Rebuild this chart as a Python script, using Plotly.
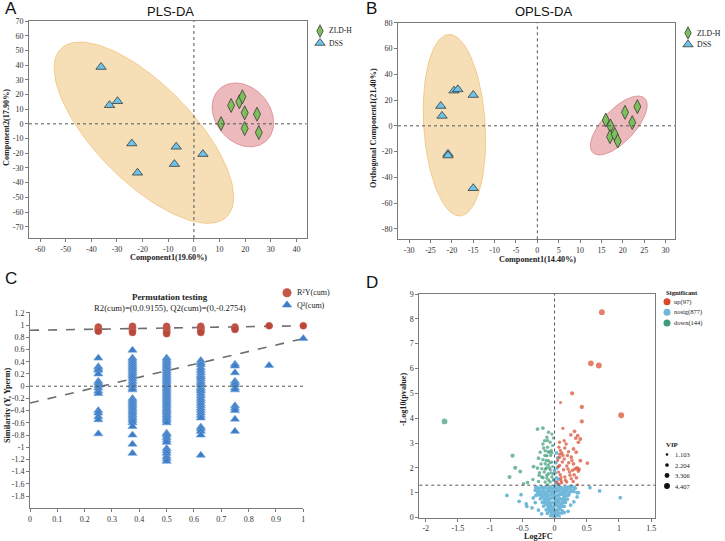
import numpy as np
import plotly.graph_objects as go

W, H = 725, 541

# ---------------- Panel A : PLS-DA scores ----------------
A_ZLD_X = [10.6, 14.5, 17.7, 18.9, 19.8, 19.8, 24.6, 25.3]
A_ZLD_Y = [0.2, 12.5, 15.0, 18.4, 7.5, -3.2, 6.6, -5.9]
A_DSS_X = [-36.2, -32.9, -29.8, -24.2, -22.0, -6.9, -7.6, 3.5]
A_DSS_Y = [38.7, 12.7, 15.4, -13.4, -33.3, -15.6, -27.4, -20.6]
A_ELL_DSS_CENTER = [-19.5, -6.0]
A_ELL_DSS_COV = [[1225, -1536], [-1536, 3807]]
A_ELL_ZLD_CENTER = [19.1, 6.1]
A_ELL_ZLD_COV = [[144, -63], [-63, 473]]
A_XTICKS = [-60, -50, -40, -30, -20, -10, 0, 10, 20, 30, 40]
A_YTICKS = [70, 60, 50, 40, 30, 20, 10, 0, -10, -20, -30, -40, -50, -60, -70]

# ---------------- Panel B : OPLS-DA scores ----------------
B_ZLD_X = [16.0, 17.1, 17.0, 18.1, 18.8, 20.5, 22.2, 23.4]
B_ZLD_Y = [4.5, -0.1, -8.4, -6.6, -11.8, 10.5, 2.5, 14.9]
B_DSS_X = [-22.6, -22.3, -19.5, -18.6, -15.0, -20.9, -20.9, -15.0]
B_DSS_Y = [15.4, 7.7, 27.3, 28.3, 23.9, -21.8, -23.0, -48.4]
B_ELL_DSS_CENTER = [-19.4, 0.5]
B_ELL_DSS_COV = [[53.3, -84], [-84, 4956]]
B_ELL_ZLD_CENTER = [19.05, 0.3]
B_ELL_ZLD_COV = [[44.2, 104], [104, 524]]
B_XTICKS = [-30, -25, -20, -15, -10, -5, 0, 5, 10, 15, 20, 25, 30]
B_YTICKS = [80, 60, 40, 20, 0, -20, -40, -60, -80]

# ---------------- Panel C : permutation test ----------------
C_PERM_X = [0.25, 0.375, 0.5, 0.625, 0.75, 0.875, 1.0]
C_R2 = [
    [0.97, 0.95, 0.93, 0.91, 0.90],
    [0.98, 0.96, 0.94, 0.92, 0.90, 0.88],
    [0.98, 0.96, 0.94, 0.92, 0.90, 0.88, 0.86],
    [0.98, 0.96, 0.94, 0.92, 0.90, 0.88],
    [0.97, 0.95, 0.93],
    [0.99],
    [0.99],
]
C_Q2 = [
    [0.46, 0.32, 0.29, 0.26, 0.20, 0.08, 0.05, 0.01, -0.03, -0.08, -0.12, -0.40, -0.44, -0.50, -0.55, -0.78],
    [0.59, 0.46, 0.43, 0.40, 0.37, 0.34, 0.31, 0.28, 0.25, 0.22, 0.19, 0.16, 0.12, 0.08, 0.04, 0.01,
     -0.03, -0.06, -0.20, -0.23, -0.26, -0.29, -0.32, -0.35, -0.38, -0.41, -0.44, -0.47, -0.50, -0.53,
     -0.56, -0.60, -0.66, -0.80, -0.95, -1.10],
    [0.46, 0.43, 0.40, 0.37, 0.34, 0.31, 0.28, 0.25, 0.22, 0.19, 0.16, 0.13, 0.10, 0.07, 0.04, 0.01,
     -0.02, -0.05, -0.08, -0.11, -0.14, -0.17, -0.20, -0.23, -0.26, -0.29, -0.32, -0.35, -0.38, -0.41,
     -0.44, -0.47, -0.50, -0.53, -0.56, -0.60, -0.77, -0.80, -0.84, -0.88, -0.92, -1.02, -1.06, -1.10,
     -1.15, -1.19, -1.23],
    [0.42, 0.38, 0.35, 0.30, 0.26, 0.22, 0.18, 0.15, 0.12, 0.08, 0.05, 0.02, -0.02, -0.05, -0.08,
     -0.12, -0.16, -0.20, -0.24, -0.28, -0.32, -0.36, -0.40, -0.44, -0.48, -0.52, -0.67, -0.70, -0.74,
     -0.80, -1.13],
    [0.36, 0.33, 0.22, 0.08, 0.05, 0.02, -0.03, -0.06, -0.32, -0.36, -0.40, -0.54, -0.74],
    [0.34],
    [0.78],
]
C_R2_INTERCEPT = 0.9155
C_Q2_INTERCEPT = -0.2754
C_XTICKS = [0, 0.1, 0.2, 0.3, 0.4, 0.5, 0.6, 0.7, 0.8, 0.9, 1]
C_YTICKS = [1.2, 1, 0.8, 0.6, 0.4, 0.2, 0, -0.2, -0.4, -0.6, -0.8, -1, -1.2, -1.4, -1.6, -1.8]

# ---------------- Panel D : volcano ----------------
D_UP = [  # (log2FC, -log10 p, VIP)
    (0.735, 8.27, 4.4), (0.564, 6.21, 4.2), (0.688, 6.12, 4.4), (1.035, 4.12, 4.4), (0.274, 5.0, 2.6),
    (0.093, 4.63, 1.6), (0.424, 4.45, 2.8), (0.424, 3.87, 2.6), (0.13, 3.59, 1.6), (0.31, 3.47, 2.2),
    (0.254, 3.33, 2.2), (0.40, 3.16, 2.4), (0.37, 3.03, 2.2), (0.15, 3.09, 2.0), (0.078, 3.03, 1.8),
    (0.18, 2.96, 2.0), (0.067, 2.83, 1.8), (0.295, 2.76, 2.2), (0.217, 2.65, 2.0), (0.336, 2.63, 2.2),
    (0.114, 2.60, 2.0), (0.078, 2.43, 2.0), (0.15, 2.36, 2.0), (0.26, 2.43, 2.2), (0.40, 2.29, 2.4),
    (0.51, 2.19, 2.2), (0.078, 2.09, 2.0), (0.19, 2.07, 2.0), (0.295, 2.16, 2.2), (0.32, 1.96, 2.2),
    (0.37, 1.87, 2.4), (0.14, 1.92, 2.0), (0.233, 1.83, 2.0), (0.088, 1.72, 2.0), (0.16, 1.63, 2.0),
    (0.26, 1.56, 2.0), (0.305, 1.72, 2.2), (0.10, 1.49, 1.8), (0.19, 1.43, 1.8), (0.357, 1.32, 1.6),
    (0.036, 1.43, 1.8), (0.062, 1.83, 1.8), (0.12, 2.23, 2.0), (0.20, 2.50, 2.0), (0.09, 2.70, 1.8),
    (0.35, 2.00, 2.2), (0.38, 1.95, 2.2), (0.28, 1.90, 2.0), (0.22, 2.20, 2.0), (0.10, 1.60, 1.8),
    (0.13, 2.50, 1.9), (0.24, 1.70, 2.0), (0.33, 3.20, 2.2), (0.07, 1.35, 1.6), (0.05, 2.30, 1.6),
    (0.17, 1.50, 1.8), (0.36, 3.30, 2.2), (0.27, 2.30, 2.0), (0.06, 2.05, 1.8), (0.11, 1.40, 1.8),
    (0.21, 1.95, 2.0), (0.29, 1.45, 2.0), (0.34, 1.60, 2.2), (0.16, 2.80, 2.0), (0.08, 2.55, 1.8),
]
D_DOWN = [
    (-1.708, 3.87, 4.3), (-0.652, 2.49, 2.8), (-0.611, 2.0, 2.6), (-0.533, 1.85, 2.4), (-0.699, 1.63, 2.6),
    (-0.264, 3.56, 2.4), (-0.181, 3.60, 2.4), (-0.093, 3.43, 2.0), (-0.041, 3.36, 1.8), (-0.119, 3.23, 2.0),
    (-0.155, 3.09, 2.0), (-0.067, 3.03, 1.8), (-0.181, 2.96, 2.0), (-0.109, 2.83, 2.0), (-0.145, 2.69, 2.0),
    (-0.223, 2.63, 2.0), (-0.078, 2.63, 1.9), (-0.119, 2.49, 2.0), (-0.248, 2.39, 2.2), (-0.181, 2.33, 2.0),
    (-0.093, 2.29, 2.0), (-0.041, 2.23, 1.8), (-0.145, 2.16, 2.0), (-0.326, 2.05, 2.4), (-0.264, 1.99, 2.2),
    (-0.197, 1.96, 2.0), (-0.129, 1.99, 2.0), (-0.067, 1.92, 1.9), (-0.233, 1.80, 2.0), (-0.16, 1.83, 2.0),
    (-0.093, 1.76, 1.9), (-0.197, 1.63, 2.0), (-0.119, 1.59, 2.0), (-0.041, 1.63, 1.8), (-0.336, 1.53, 2.0),
    (-0.248, 1.45, 2.0), (-0.419, 1.41, 2.2), (-0.481, 1.36, 2.0), (-0.145, 1.43, 1.9), (-0.067, 1.43, 1.8),
    (-0.016, 1.53, 1.6), (-0.109, 1.32, 1.8), (-0.05, 2.70, 1.8), (-0.10, 2.10, 2.0), (-0.13, 2.30, 2.0),
    (-0.06, 2.50, 1.8), (-0.08, 2.00, 1.9), (-0.03, 2.90, 1.7), (-0.11, 3.10, 2.0), (-0.17, 2.80, 2.0),
    (-0.12, 1.70, 1.9), (-0.05, 1.80, 1.8), (-0.15, 2.50, 2.0), (-0.02, 3.20, 1.6), (-0.09, 1.50, 1.8),
    (-0.18, 1.60, 2.0), (-0.03, 2.05, 1.7), (-0.07, 2.20, 1.8), (-0.21, 2.15, 2.0), (-0.04, 2.60, 1.7),
    (-0.14, 1.95, 1.9), (-0.02, 1.75, 1.6), (-0.24, 1.70, 2.0), (-0.10, 2.65, 1.9),
]
D_NOSIG_X = [0.0, 0.01, -0.01, 0.02, -0.02, 0.03, -0.03, 0.04, -0.04, 0.05, -0.05, 0.06, -0.06, 0.07,
             -0.07, 0.08, -0.08, 0.09, -0.09, 0.10, -0.10, 0.11, -0.11, 0.12, -0.12, 0.13, -0.13, 0.14,
             -0.14, 0.15, -0.15, 0.16, -0.16, 0.17, -0.17, 0.18, -0.18, 0.19, -0.19, 0.20, -0.20, 0.21,
             -0.22, 0.23, -0.24, 0.25, -0.26, 0.27, -0.28, 0.30, 0.32, 0.35, -0.30,
             0.02, -0.02, 0.03, -0.03, 0.04, -0.04, 0.05, -0.05, 0.06, -0.06, 0.01, -0.01, 0.03, -0.08,
             0.08, 0.10, -0.10, 0.12, -0.12, 0.05, -0.06, 0.07, -0.09, 0.14, -0.14, 0.0, 0.02, -0.02,
             0.02, 0.03, 0.01, 0.04, 0.02, 0.05, 0.03, -0.01, 0.0, 0.04, 0.06,
             -0.74, -0.52, -0.55, -0.43, -0.44, -0.35, -0.33, -0.29, 0.55, 0.70, 1.02, 0.37, 0.35,
             0.30, 0.21, -0.25, -0.20, 0.15, 0.25, -0.30]
D_NOSIG_Y = [0.02, 0.05, 0.08, 0.12, 0.15, 0.10, 0.20, 0.22, 0.28, 0.30, 0.35, 0.18, 0.25, 0.40,
             0.42, 0.33, 0.50, 0.48, 0.38, 0.55, 0.60, 0.45, 0.70, 0.65, 0.52, 0.75, 0.80, 0.60,
             0.90, 0.85, 0.66, 0.95, 1.00, 0.72, 1.10, 1.05, 0.85, 1.15, 1.20, 0.90, 0.95, 1.22,
             1.05, 1.00, 1.15, 1.10, 0.98, 1.25, 1.22, 1.05, 1.18, 1.00, 1.10,
             0.30, 0.40, 0.50, 0.60, 0.70, 0.80, 0.90, 1.00, 1.10, 1.20, 0.65, 0.95, 1.15, 1.05,
             0.95, 1.20, 1.15, 1.00, 0.95, 0.60, 0.55, 0.75, 0.75, 1.10, 1.22, 1.25, 0.85, 1.05,
             1.40, 1.60, 1.80, 2.00, 2.20, 2.40, 2.60, 1.50, 1.90, 1.35, 1.55,
             0.89, 0.92, 0.65, 0.45, 0.55, 0.39, 0.79, 0.89, 1.20, 1.07, 0.80, 1.00, 0.83,
             0.63, 0.25, 0.30, 0.15, 0.20, 0.50, 0.60]
D_NOSIG_CORE_X = [-0.06, -0.02, 0.03, 0.07,
                  -0.11, -0.05, 0.01, 0.05, 0.11,
                  -0.13, -0.09, -0.03, 0.02, 0.08, 0.12,
                  -0.17, -0.10, -0.06, -0.01, 0.04, 0.09, 0.15,
                  -0.19, -0.15, -0.09, -0.04, 0.00, 0.06, 0.12, 0.17,
                  -0.22, -0.16, -0.12, -0.07, -0.01, 0.04, 0.09, 0.15, 0.20,
                  -0.25, -0.20, -0.13, -0.09, -0.04, 0.02, 0.07, 0.11, 0.17, 0.22,
                  -0.27, -0.23, -0.17, -0.11, -0.07, -0.02, 0.03, 0.08, 0.14, 0.19, 0.24, 0.28,
                  -0.29, -0.25, -0.20, -0.15, -0.08, -0.03, 0.01, 0.07, 0.12, 0.17, 0.22, 0.26, 0.31]
D_NOSIG_CORE_Y = [0.06, 0.04, 0.07, 0.05,
                  0.17, 0.14, 0.16, 0.13, 0.18,
                  0.31, 0.28, 0.32, 0.29, 0.33, 0.27,
                  0.46, 0.43, 0.47, 0.44, 0.48, 0.42, 0.45,
                  0.61, 0.58, 0.62, 0.60, 0.57, 0.63, 0.59, 0.61,
                  0.76, 0.73, 0.77, 0.74, 0.78, 0.72, 0.75, 0.79, 0.74,
                  0.91, 0.88, 0.92, 0.89, 0.93, 0.87, 0.90, 0.94, 0.88, 0.91,
                  1.06, 1.03, 1.07, 1.04, 1.08, 1.02, 1.05, 1.09, 1.03, 1.06, 1.04, 1.07,
                  1.21, 1.18, 1.22, 1.19, 1.23, 1.17, 1.20, 1.24, 1.18, 1.21, 1.19, 1.22, 1.20]
D_NOSIG_VIP = 2.2
D_THRESHOLD = 1.301
D_COUNTS = {"up": 97, "nosig": 877, "down": 144}
D_VIP_LEGEND = [1.103, 2.204, 3.306, 4.407]
D_XTICKS = [-2, -1.5, -1, -0.5, 0, 0.5, 1, 1.5]
D_YTICKS = [0, 1, 2, 3, 4, 5, 6, 7, 8, 9]

# ---------------- styles ----------------
SERIF = "Liberation Serif"
SANS = "Liberation Sans"
GREEN = "#7DBF5B"
CYAN = "#6CC4E8"
EDGE = "#3A3A3A"
YELLOW_FILL = "rgba(238,190,110,0.5)"
YELLOW_LINE = "rgba(238,190,110,0.7)"
PINK_FILL = "rgba(215,110,118,0.48)"
PINK_LINE = "rgba(210,110,118,0.6)"
R2_RED = "#B9473A"
Q2_BLUE = "#3D7CC6"
UP_RED = "#D9482D"
NOSIG_BLUE = "#70B8DA"
DOWN_GREEN = "#3F9C79"
AX_COLOR = "#7A7A7A"
TITLE_SIZE = 8.2


def vip_size(v):
    return 1.5 + v


def fmt(v):
    return f"{v:g}"


def ellipse_xy(center, cov, n=120):
    L = np.linalg.cholesky(np.array(cov, float))
    t = np.linspace(0, 2 * np.pi, n)
    pts = L @ np.vstack([np.cos(t), np.sin(t)])
    return center[0] + pts[0], center[1] + pts[1]


def px(x, y):
    return x / W, 1 - y / H


fig = go.Figure()

# ---- axes domains (pixel boxes) ----
boxes = {
    1: (29, 306.5, 21, 238),
    2: (398, 675, 22.7, 239.3),
    3: (30, 303.3, 311.7, 508.3),
    4: (419.3, 655, 294, 517.5),
}


def axis_common(ticks, rng, box_mirror=True):
    return dict(
        range=rng, tickmode="array", tickvals=ticks, ticktext=[fmt(t) for t in ticks],
        ticks="outside", ticklen=3, tickwidth=1, tickcolor=AX_COLOR,
        showline=True, linecolor=AX_COLOR, linewidth=1, mirror=box_mirror,
        showgrid=False, zeroline=False, automargin=False,
        tickfont=dict(family=SERIF, size=8, color="#333"),
    )


layout_axes = {}
rngs = {
    1: ([-64.3, 43.9], [-77.7, 70]),
    2: ([-32.6, 32.2], [-88, 80]),
    3: ([0, 1], [-2, 1.22]),
    4: ([-2.1, 1.56], [0, 9]),
}
ticks = {1: (A_XTICKS, A_YTICKS), 2: (B_XTICKS, B_YTICKS), 3: (C_XTICKS, C_YTICKS), 4: (D_XTICKS, D_YTICKS)}
for i in range(1, 5):
    l, r, t, b = boxes[i]
    xa = axis_common(ticks[i][0], rngs[i][0], box_mirror=(i != 3))
    ya = axis_common(ticks[i][1], rngs[i][1], box_mirror=(i != 3))
    xa["domain"] = [l / W, r / W]
    ya["domain"] = [1 - b / H, 1 - t / H]
    xa["anchor"] = "y" if i == 1 else f"y{i}"
    ya["anchor"] = "x" if i == 1 else f"x{i}"
    layout_axes["xaxis" if i == 1 else f"xaxis{i}"] = xa
    layout_axes["yaxis" if i == 1 else f"yaxis{i}"] = ya

# overlay pixel axis for legend glyphs
layout_axes["xaxis5"] = dict(domain=[0, 1], range=[0, W], visible=False, anchor="y5", fixedrange=True)
layout_axes["yaxis5"] = dict(domain=[0, 1], range=[H, 0], visible=False, anchor="x5", fixedrange=True)

# ---- Panels A & B ----
for (xa, ya, zx, zy, dx, dy, ec_d, cv_d, ec_z, cv_z) in [
    ("x", "y", A_ZLD_X, A_ZLD_Y, A_DSS_X, A_DSS_Y, A_ELL_DSS_CENTER, A_ELL_DSS_COV, A_ELL_ZLD_CENTER, A_ELL_ZLD_COV),
    ("x2", "y2", B_ZLD_X, B_ZLD_Y, B_DSS_X, B_DSS_Y, B_ELL_DSS_CENTER, B_ELL_DSS_COV, B_ELL_ZLD_CENTER, B_ELL_ZLD_COV),
]:
    ex, ey = ellipse_xy(ec_d, cv_d)
    fig.add_trace(go.Scatter(x=ex, y=ey, xaxis=xa, yaxis=ya, mode="lines", fill="toself",
                             fillcolor=YELLOW_FILL, line=dict(color=YELLOW_LINE, width=1),
                             showlegend=False, hoverinfo="skip"))
    ex, ey = ellipse_xy(ec_z, cv_z)
    fig.add_trace(go.Scatter(x=ex, y=ey, xaxis=xa, yaxis=ya, mode="lines", fill="toself",
                             fillcolor=PINK_FILL, line=dict(color=PINK_LINE, width=1),
                             showlegend=False, hoverinfo="skip"))
    fig.add_trace(go.Scatter(x=dx, y=dy, xaxis=xa, yaxis=ya, mode="markers", name="DSS",
                             marker=dict(symbol="triangle-up", size=9, color=CYAN,
                                         line=dict(color=EDGE, width=0.8)), showlegend=False))
    fig.add_trace(go.Scatter(x=zx, y=zy, xaxis=xa, yaxis=ya, mode="markers", name="ZLD-H",
                             marker=dict(symbol="diamond-tall", size=10, color=GREEN,
                                         line=dict(color=EDGE, width=0.8)), showlegend=False))

# ---- Panel C ----
r2x, r2y, q2x, q2y = [], [], [], []
for xv, r2s, q2s in zip(C_PERM_X, C_R2, C_Q2):
    r2x += [xv] * len(r2s); r2y += r2s
    q2x += [xv] * len(q2s); q2y += q2s
fig.add_trace(go.Scatter(x=[0, C_PERM_X[-1]], y=[C_R2_INTERCEPT, C_R2[-1][0]], xaxis="x3", yaxis="y3",
                         mode="lines", line=dict(color="#6E6E6E", width=1.6, dash="dash"),
                         showlegend=False, hoverinfo="skip", cliponaxis=False))
fig.add_trace(go.Scatter(x=[0, C_PERM_X[-1]], y=[C_Q2_INTERCEPT, C_Q2[-1][0]], xaxis="x3", yaxis="y3",
                         mode="lines", line=dict(color="#6E6E6E", width=1.6, dash="dash"),
                         showlegend=False, hoverinfo="skip", cliponaxis=False))
fig.add_trace(go.Scatter(x=q2x, y=q2y, xaxis="x3", yaxis="y3", mode="markers", name="Q²(cum)",
                         marker=dict(symbol="triangle-up", size=8, color=Q2_BLUE,
                                     line=dict(color="#6FA2DA", width=0.6)),
                         showlegend=False, cliponaxis=False))
fig.add_trace(go.Scatter(x=r2x, y=r2y, xaxis="x3", yaxis="y3", mode="markers", name="R²Y(cum)",
                         marker=dict(symbol="circle", size=7, color=R2_RED,
                                     line=dict(color="#C96A5E", width=0.5)),
                         showlegend=False, cliponaxis=False))

# ---- Panel D ----
nx = D_NOSIG_X + D_NOSIG_CORE_X
ny = D_NOSIG_Y + D_NOSIG_CORE_Y
fig.add_trace(go.Scatter(x=nx, y=ny, xaxis="x4", yaxis="y4", mode="markers",
                         marker=dict(color=NOSIG_BLUE, size=vip_size(D_NOSIG_VIP), line=dict(width=0)),
                         showlegend=False))
fig.add_trace(go.Scatter(x=[p[0] for p in D_DOWN], y=[p[1] for p in D_DOWN], xaxis="x4", yaxis="y4",
                         mode="markers",
                         marker=dict(color=DOWN_GREEN, size=[vip_size(p[2]) for p in D_DOWN], line=dict(width=0)),
                         showlegend=False))
fig.add_trace(go.Scatter(x=[p[0] for p in D_UP], y=[p[1] for p in D_UP], xaxis="x4", yaxis="y4",
                         mode="markers",
                         marker=dict(color=UP_RED, size=[vip_size(p[2]) for p in D_UP], line=dict(width=0)),
                         showlegend=False))

# ---- reference lines ----
dot = dict(color="#555", width=1, dash="dot")
shapes = [
    dict(type="line", xref="x", yref="y domain", x0=0, x1=0, y0=0, y1=1, line=dot, layer="above"),
    dict(type="line", xref="x domain", yref="y", x0=0, x1=1, y0=0, y1=0, line=dot, layer="above"),
    dict(type="line", xref="x2", yref="y2 domain", x0=0, x1=0, y0=0, y1=1, line=dot, layer="above"),
    dict(type="line", xref="x2 domain", yref="y2", x0=0, x1=1, y0=0, y1=0, line=dot, layer="above"),
    dict(type="line", xref="x3 domain", yref="y3", x0=0, x1=1, y0=0, y1=0, line=dot, layer="above"),
    dict(type="line", xref="x4", yref="y4 domain", x0=0, x1=0, y0=0, y1=1, line=dot, layer="above"),
    dict(type="line", xref="x4 domain", yref="y4", x0=0, x1=1, y0=D_THRESHOLD, y1=D_THRESHOLD, line=dot, layer="above"),
]


# ---- legend glyphs on pixel overlay ----
def glyph(x, y, symbol, size, color, edge=None, ew=0):
    fig.add_trace(go.Scatter(x=[x], y=[y], xaxis="x5", yaxis="y5", mode="markers",
                             marker=dict(symbol=symbol, size=size, color=color,
                                         line=dict(color=edge or color, width=ew)),
                             showlegend=False, hoverinfo="skip", cliponaxis=False))


glyph(320, 31, "diamond-tall", 9, GREEN, EDGE, 0.8)
glyph(320, 43, "triangle-up", 9, CYAN, EDGE, 0.8)
glyph(688, 33, "diamond-tall", 9, GREEN, EDGE, 0.8)
glyph(688, 44.5, "triangle-up", 9, CYAN, EDGE, 0.8)
glyph(287, 292.7, "circle", 9, "#C2574A")
glyph(287, 305, "triangle-up", 9, "#3F7FC8")
glyph(667, 301.7, "circle", 7, UP_RED)
glyph(667, 312.3, "circle", 7, NOSIG_BLUE)
glyph(667, 323, "circle", 7, DOWN_GREEN)
for i, v in enumerate(D_VIP_LEGEND):
    glyph(667, 454.5 + i * 10.5, "circle", vip_size(v), "#111")

# ---- annotations ----
ann = []


def text(x, y, s, size=9, family=SERIF, xanchor="center", bold=False, angle=0, color="#222"):
    xx, yy = px(x, y)
    ann.append(dict(x=xx, y=yy, xref="paper", yref="paper", text=(f"<b>{s}</b>" if bold else s),
                    showarrow=False, xanchor=xanchor, yanchor="middle", textangle=angle,
                    font=dict(family=family, size=size, color=color)))


# panel letters
text(3, 9, "A", 17, SANS, "left", color="#111")
text(364, 9, "B", 17, SANS, "left", color="#111")
text(3, 278, "C", 17, SANS, "left", color="#111")
text(364, 282, "D", 17, SANS, "left", color="#111")
# titles
text(170, 12, "PLS-DA", 13, SANS, color="#111")
text(543, 12, "OPLS-DA", 13, SANS, color="#111")
text(170, 296.5, "Permutation testing", 8.9, SERIF, bold=True)
text(170, 307.5, f"R2(cum)=(0,{C_R2_INTERCEPT}), Q2(cum)=(0,{C_Q2_INTERCEPT})", 8.7, SERIF)
# axis titles
text(168, 257, "Component1(19.60%)", TITLE_SIZE, SERIF, bold=True)
text(6, 128, "Component2(17.90%)", TITLE_SIZE, SERIF, bold=True, angle=-90)
text(537, 259, "Component1(14.40%)", TITLE_SIZE, SERIF, bold=True)
text(373, 128, "Orthogonal Component1(21.40%)", TITLE_SIZE, SERIF, bold=True, angle=-90)
text(7, 405, "Similarity (Y, Yperm)", TITLE_SIZE, SERIF, bold=True, angle=-90)
text(403, 400, "-Log10(pvalue)", TITLE_SIZE, SERIF, bold=True, angle=-90)
text(538, 536.5, "Log2FC", TITLE_SIZE, SERIF, bold=True)
# legends text
text(327, 31, "ZLD-H", 7.6, SERIF, "left")
text(327, 43, "DSS", 7.6, SERIF, "left")
text(695, 33, "ZLD-H", 7.8, SERIF, "left")
text(695, 44.5, "DSS", 7.8, SERIF, "left")
text(295, 292.7, "R²Y(cum)", 8, SERIF, "left")
text(295, 305, "Q²(cum)", 8, SERIF, "left")
text(664, 292.5, "Significant", 6.8, SERIF, "left", bold=True)
text(672, 301.7, f"up({D_COUNTS['up']})", 6.5, SERIF, "left")
text(672, 312.3, f"nosig({D_COUNTS['nosig']})", 6.5, SERIF, "left")
text(672, 323, f"down({D_COUNTS['down']})", 6.5, SERIF, "left")
text(664, 444, "VIP", 6.8, SERIF, "left", bold=True)
for i, v in enumerate(D_VIP_LEGEND):
    text(673, 454.5 + i * 10.5, f"{v:.3f}", 6.5, SERIF, "left")

fig.update_layout(
    width=W, height=H, margin=dict(l=0, r=0, t=0, b=0),
    paper_bgcolor="white", plot_bgcolor="rgba(0,0,0,0)",
    showlegend=False, shapes=shapes, annotations=ann, hovermode=False,
    **layout_axes,
)
fig.write_html("out.html", config={"displayModeBar": False},
               post_script="document.body.style.margin='0';document.body.style.overflow='hidden';")
